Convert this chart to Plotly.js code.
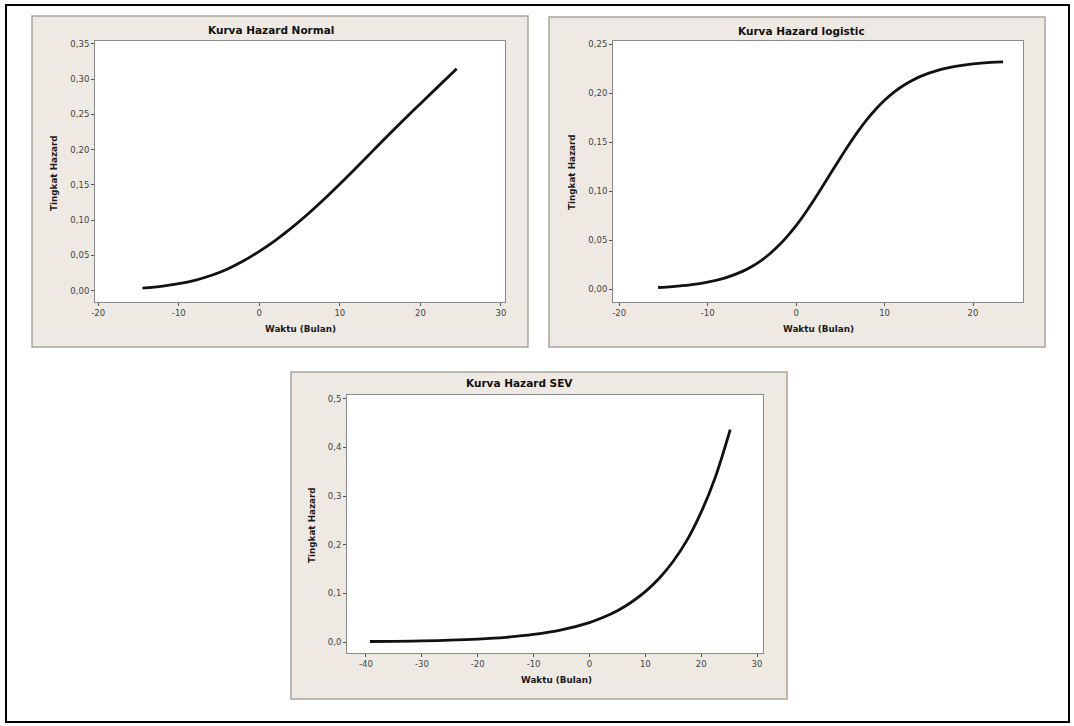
<!DOCTYPE html>
<html>
<head>
<meta charset="utf-8">
<script src="https://cdn.plot.ly/plotly-3.0.1.min.js"></script>
<style>
  html, body { margin: 0; padding: 0; background: #ffffff; }
  #chart { width: 1074px; height: 726px; }
</style>
</head>
<body>
<div id="chart"></div>
<script>
// ---- Data ----
const panelTitles = ["Kurva Hazard Normal", "Kurva Hazard logistic", "Kurva Hazard SEV"];
const xAxisTitle = "Waktu (Bulan)";
const yAxisTitle = "Tingkat Hazard";

// Normal hazard curve
const normalX = [-14.5, -12, -10, -8, -6, -4, -2, 0, 2, 4, 6, 8, 10, 12, 14, 16, 18, 20, 22, 24.5];
const normalY = [0.0038, 0.0066, 0.0100, 0.0148, 0.0215, 0.0305, 0.0420, 0.0558, 0.0715, 0.0890,
                 0.1083, 0.1292, 0.1512, 0.1740, 0.1972, 0.2203, 0.2430, 0.2652, 0.2872, 0.3145];

// Logistic hazard curve
const logisticX = [-15.6, -14, -12, -10, -8, -6, -5, -4, -3, -2, -1, 0, 1, 2, 3, 4, 5, 6, 7, 8, 9, 10,
                   11, 12, 13, 14, 16, 18, 20, 22, 23.4];
const logisticY = [0.0018, 0.0027, 0.0044, 0.0072, 0.0116, 0.0185, 0.0232, 0.0290, 0.0360, 0.0443,
                   0.0540, 0.0650, 0.0774, 0.0908, 0.1051, 0.1196, 0.1341, 0.1481, 0.1612, 0.1731,
                   0.1837, 0.1929, 0.2007, 0.2072, 0.2126, 0.2170, 0.2234, 0.2274, 0.2300, 0.2315, 0.2320];

// SEV hazard curve
const sevX = [-39.3, -35, -30, -25, -20, -15, -10, -5, 0, 2.5, 5, 7.5, 10, 12.5, 15, 17.5, 20, 22.5, 25.2];
const sevY = [0.0010, 0.0015, 0.0023, 0.0037, 0.0060, 0.0096, 0.0155, 0.0250, 0.0400, 0.0508,
              0.0644, 0.0818, 0.1035, 0.1310, 0.1660, 0.2100, 0.2670, 0.3380, 0.4370];

// Tick labels
const xTicks1 = [-20, -10, 0, 10, 20, 30];
const xTickText1 = ["-20", "-10", "0", "10", "20", "30"];
const xTicks2 = [-20, -10, 0, 10, 20];
const xTickText2 = ["-20", "-10", "0", "10", "20"];
const xTicks3 = [-40, -30, -20, -10, 0, 10, 20, 30];
const xTickText3 = ["-40", "-30", "-20", "-10", "0", "10", "20", "30"];

// ---- Layout helpers (pixel geometry) ----
const W = 1074, H = 726;
const px = v => v / W;
const py = v => 1 - v / H;

const beige = "#EEEAE3";
const lineCol = "#111111";

const traces = [
  { x: normalX, y: normalY, xaxis: "x", yaxis: "y", type: "scatter", mode: "lines",
    line: { color: lineCol, width: 2.8, shape: "spline", smoothing: 1 }, hoverinfo: "skip" },
  { x: logisticX, y: logisticY, xaxis: "x2", yaxis: "y2", type: "scatter", mode: "lines",
    line: { color: lineCol, width: 2.8, shape: "spline", smoothing: 1 }, hoverinfo: "skip" },
  { x: sevX, y: sevY, xaxis: "x3", yaxis: "y3", type: "scatter", mode: "lines",
    line: { color: lineCol, width: 2.8, shape: "spline", smoothing: 1 }, hoverinfo: "skip" }
];

const tickFont = { family: "DejaVu Sans, sans-serif", size: 8.5, color: "#444444" };
function xAxis(domain, range, vals, text, anchor) {
  return {
    domain: domain, range: range, anchor: anchor,
    tickmode: "array", tickvals: vals, ticktext: text,
    ticks: "outside", ticklen: 3, tickwidth: 1, tickcolor: "#555555",
    showline: true, linecolor: "#8a8a8a", linewidth: 1, mirror: true,
    showgrid: false, zeroline: false, tickfont: tickFont, fixedrange: true
  };
}
function yAxis(domain, range, dtick, fmt, anchor) {
  return {
    domain: domain, range: range, anchor: anchor,
    tick0: 0, dtick: dtick, tickformat: fmt,
    ticks: "outside", ticklen: 3, tickwidth: 1, tickcolor: "#555555",
    showline: true, linecolor: "#8a8a8a", linewidth: 1, mirror: true,
    showgrid: false, zeroline: false, tickfont: tickFont, fixedrange: true
  };
}

function rect(x0, y0, x1, y1, fill, lc, lw) {
  return { type: "rect", xref: "paper", yref: "paper", layer: "below",
    x0: px(x0), x1: px(x1), y0: py(y1), y1: py(y0),
    fillcolor: fill, line: { color: lc, width: lw } };
}

const shapes = [
  rect(6, 5, 1069, 722, "rgba(0,0,0,0)", "#000000", 2),
  rect(32, 16, 528, 347, beige, "#a9a6a0", 1.5),
  rect(549, 17, 1045, 347, beige, "#a9a6a0", 1.5),
  rect(291, 372, 787, 699, beige, "#a9a6a0", 1.5),
  rect(95, 41, 505, 302, "#ffffff", "rgba(0,0,0,0)", 0),
  rect(613, 41, 1023, 302, "#ffffff", "rgba(0,0,0,0)", 0),
  rect(347, 395, 763, 653, "#ffffff", "rgba(0,0,0,0)", 0)
];

const titleFont = { family: "DejaVu Sans, sans-serif", size: 10.5, color: "#111111", weight: 700 };
const axTitleFont = { family: "DejaVu Sans, sans-serif", size: 8.8, color: "#1a1a1a", weight: 700 };
function ann(text, x, y, font, angle) {
  return { text: text, xref: "paper", yref: "paper", x: px(x), y: py(y),
    xanchor: "center", yanchor: "middle", showarrow: false, font: font,
    textangle: angle || 0 };
}

const annotations = [
  ann(panelTitles[0], 271, 30, titleFont),
  ann(panelTitles[1], 801, 31, titleFont),
  ann(panelTitles[2], 519, 383, titleFont),
  ann(xAxisTitle, 300, 329, axTitleFont),
  ann(xAxisTitle, 818, 329, axTitleFont),
  ann(xAxisTitle, 556, 680, axTitleFont),
  ann(yAxisTitle, 54, 173, axTitleFont, -90),
  ann(yAxisTitle, 572, 172, axTitleFont, -90),
  ann(yAxisTitle, 312, 525, axTitleFont, -90)
];

const layout = {
  width: W, height: H,
  margin: { l: 0, r: 0, t: 0, b: 0 },
  paper_bgcolor: "#ffffff",
  plot_bgcolor: "rgba(0,0,0,0)",
  showlegend: false,
  separators: ",.",
  xaxis: xAxis([px(95), px(505)], [-20.4, 30.5], xTicks1, xTickText1, "y"),
  yaxis: yAxis([py(302), py(41)], [-0.016, 0.354], 0.05, ".2f", "x"),
  xaxis2: xAxis([px(613), px(1023)], [-20.7, 25.65], xTicks2, xTickText2, "y2"),
  yaxis2: yAxis([py(302), py(41)], [-0.013, 0.2534], 0.05, ".2f", "x2"),
  xaxis3: xAxis([px(347), px(763)], [-43.4, 31.07], xTicks3, xTickText3, "y3"),
  yaxis3: yAxis([py(653), py(395)], [-0.0226, 0.508], 0.1, ".1f", "x3"),
  shapes: shapes,
  annotations: annotations
};

Plotly.newPlot("chart", traces, layout, { staticPlot: true, displayModeBar: false });
</script>
</body>
</html>
